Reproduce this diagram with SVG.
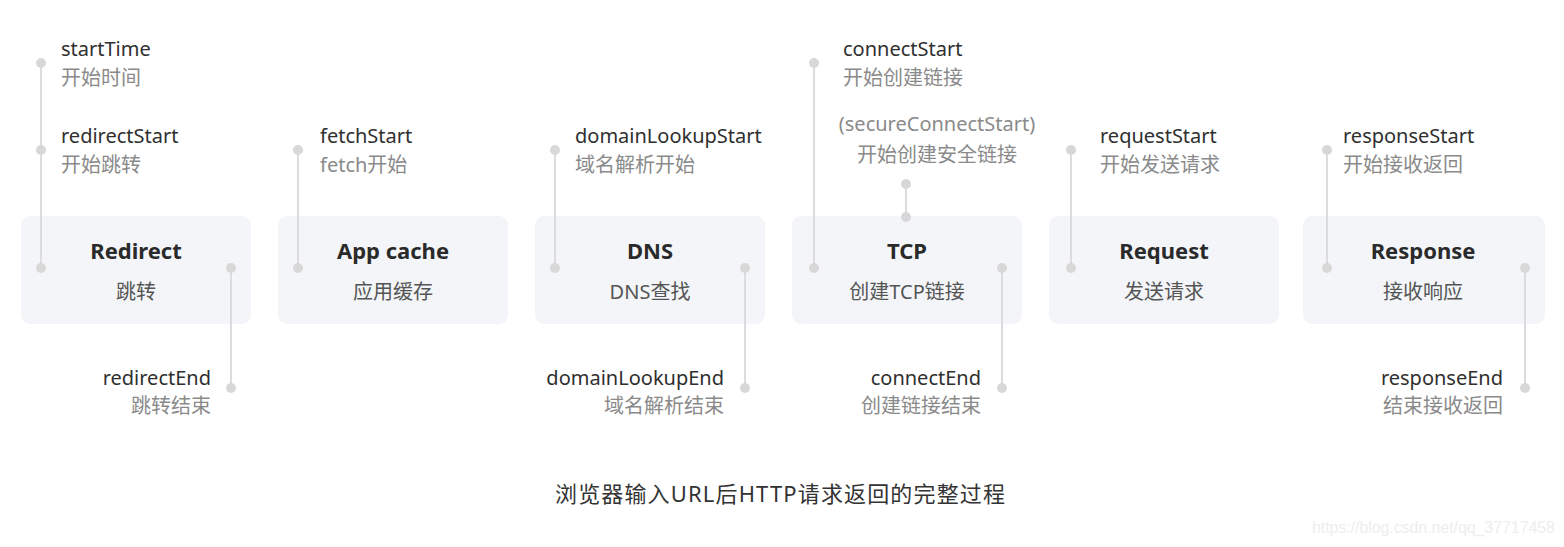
<svg xmlns="http://www.w3.org/2000/svg" width="1564" height="547" viewBox="0 0 1564 547">
<style>
text{font-family:"Noto Sans","Noto Sans CJK SC",sans-serif;}
.box{fill:#f3f5f8;}
.ttl{font-size:22px;font-weight:700;fill:#2a2a2a;text-anchor:middle;}
.sub{font-size:20px;fill:#555;text-anchor:middle;}
.en{font-size:20px;fill:#2f2f2f;}
.cn{font-size:20px;fill:#8a8a8a;}
.r{text-anchor:end;}
.m{text-anchor:middle;}
.ln{stroke:#dcdcdc;stroke-width:2;fill:none;}
.dot{fill:#d8d8d8;}
.cap{font-size:22px;fill:#333;text-anchor:middle;}
.wm{font-family:"Liberation Sans",sans-serif;font-size:16px;fill:#eeeeee;}
</style>
<rect width="1564" height="547" fill="#ffffff"/>
<g id="node-redirect">
<rect class="box" x="21" y="216" width="230" height="108" rx="9"/>
<text class="ttl" x="136" y="259">Redirect</text>
<text class="sub" x="136" y="299">跳转</text>
</g>
<g id="node-appcache">
<rect class="box" x="278" y="216" width="230" height="108" rx="9"/>
<text class="ttl" x="393" y="259">App cache</text>
<text class="sub" x="393" y="299">应用缓存</text>
</g>
<g id="node-dns">
<rect class="box" x="535" y="216" width="230" height="108" rx="9"/>
<text class="ttl" x="650" y="259">DNS</text>
<text class="sub" x="650" y="299">DNS查找</text>
</g>
<g id="node-tcp">
<rect class="box" x="792" y="216" width="230" height="108" rx="9"/>
<text class="ttl" x="907" y="259">TCP</text>
<text class="sub" x="907" y="299">创建TCP链接</text>
</g>
<g id="node-request">
<rect class="box" x="1049" y="216" width="230" height="108" rx="9"/>
<text class="ttl" x="1164" y="259">Request</text>
<text class="sub" x="1164" y="299">发送请求</text>
</g>
<g id="node-response">
<rect class="box" x="1303" y="216" width="242" height="108" rx="9"/>
<text class="ttl" x="1423" y="259">Response</text>
<text class="sub" x="1423" y="299">接收响应</text>
</g>
<g id="connectors">
<line class="ln" x1="41" y1="63" x2="41" y2="268"/>
<line class="ln" x1="231" y1="268" x2="231" y2="388"/>
<line class="ln" x1="298" y1="150" x2="298" y2="268"/>
<line class="ln" x1="555" y1="150" x2="555" y2="268"/>
<line class="ln" x1="745" y1="268" x2="745" y2="388"/>
<line class="ln" x1="814" y1="63" x2="814" y2="268"/>
<line class="ln" x1="906" y1="184" x2="906" y2="217"/>
<line class="ln" x1="1002" y1="268" x2="1002" y2="388"/>
<line class="ln" x1="1071" y1="150" x2="1071" y2="268"/>
<line class="ln" x1="1327" y1="150" x2="1327" y2="268"/>
<line class="ln" x1="1525" y1="268" x2="1525" y2="388"/>
<circle class="dot" cx="41" cy="63" r="5"/>
<circle class="dot" cx="41" cy="150" r="5"/>
<circle class="dot" cx="41" cy="268" r="5"/>
<circle class="dot" cx="231" cy="268" r="5"/>
<circle class="dot" cx="231" cy="388" r="5"/>
<circle class="dot" cx="298" cy="150" r="5"/>
<circle class="dot" cx="298" cy="268" r="5"/>
<circle class="dot" cx="555" cy="150" r="5"/>
<circle class="dot" cx="555" cy="268" r="5"/>
<circle class="dot" cx="745" cy="268" r="5"/>
<circle class="dot" cx="745" cy="388" r="5"/>
<circle class="dot" cx="814" cy="63" r="5"/>
<circle class="dot" cx="814" cy="268" r="5"/>
<circle class="dot" cx="906" cy="184" r="5"/>
<circle class="dot" cx="906" cy="217" r="5"/>
<circle class="dot" cx="1002" cy="268" r="5"/>
<circle class="dot" cx="1002" cy="388" r="5"/>
<circle class="dot" cx="1071" cy="150" r="5"/>
<circle class="dot" cx="1071" cy="268" r="5"/>
<circle class="dot" cx="1327" cy="150" r="5"/>
<circle class="dot" cx="1327" cy="268" r="5"/>
<circle class="dot" cx="1525" cy="268" r="5"/>
<circle class="dot" cx="1525" cy="388" r="5"/>
</g>
<g id="labels">
<text class="en" x="61" y="56">startTime</text>
<text class="cn" x="61" y="85">开始时间</text>
<text class="en" x="61" y="143">redirectStart</text>
<text class="cn" x="61" y="172">开始跳转</text>
<text class="en r" x="211" y="385">redirectEnd</text>
<text class="cn r" x="211" y="413">跳转结束</text>
<text class="en" x="320" y="143">fetchStart</text>
<text class="cn" x="320" y="172">fetch开始</text>
<text class="en" x="575" y="143">domainLookupStart</text>
<text class="cn" x="575" y="172">域名解析开始</text>
<text class="en r" x="724" y="385">domainLookupEnd</text>
<text class="cn r" x="724" y="413">域名解析结束</text>
<text class="en" x="843" y="56">connectStart</text>
<text class="cn" x="843" y="85">开始创建链接</text>
<text class="cn m" x="937" y="131">(secureConnectStart)</text>
<text class="cn m" x="937" y="162">开始创建安全链接</text>
<text class="en r" x="981" y="385">connectEnd</text>
<text class="cn r" x="981" y="413">创建链接结束</text>
<text class="en" x="1100" y="143">requestStart</text>
<text class="cn" x="1100" y="172">开始发送请求</text>
<text class="en" x="1343" y="143">responseStart</text>
<text class="cn" x="1343" y="172">开始接收返回</text>
<text class="en r" x="1503" y="385">responseEnd</text>
<text class="cn r" x="1503" y="413">结束接收返回</text>
</g>
<text class="cap" x="780" y="502" textLength="450">浏览器输入URL后HTTP请求返回的完整过程</text>
<text class="wm" x="1312" y="533" textLength="243">https://blog.csdn.net/qq_37717458</text>
</svg>
